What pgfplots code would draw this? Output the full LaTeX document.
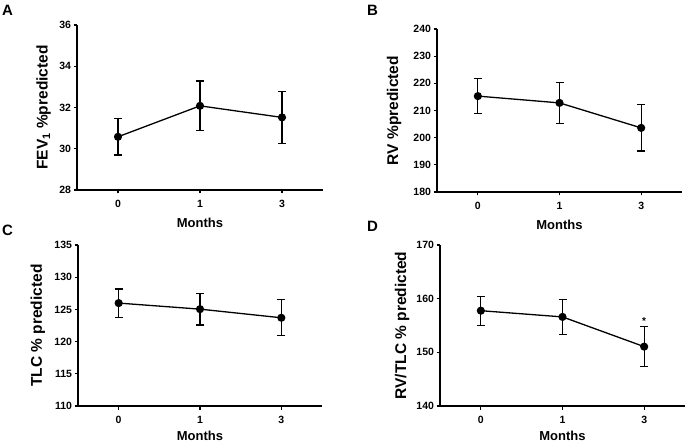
\documentclass[border=0pt]{standalone}
\usepackage{pgfplots}
\pgfplotsset{compat=1.18}
\usepackage{fontspec}
\setmainfont{Liberation Sans}
\pgfplotsset{
  prism/.style={
    scale only axis,
    axis x line*=bottom, axis y line*=left,
    xmin=-0.5, xmax=2.5, xtick={0,1,2}, xticklabels={0,1,3},
    tick align=outside, major tick length=3.5pt,
    every tick/.style={black, line width=1.2pt},
    axis line style={line width=1.2pt},
    /pgf/number format/assume math mode=true,
    ticklabel style={font=\bfseries\fontsize{10.5}{11}\selectfont},
    yticklabel style={xshift=1pt},
    xticklabel style={yshift=-3.5pt},
    xlabel=Months,
    xlabel style={at={(axis description cs:0.5,0)}, anchor=center, font=\bfseries\fontsize{13}{14}\selectfont},
    ylabel style={font=\bfseries\fontsize{15.5}{16}\selectfont},
    clip=false,
  },
  dat/.style={black, line width=1.3pt, mark=*, mark size=3.4pt,
    error bars/.cd, y dir=both, y explicit,
    error bar style={line width=1.3pt},
    error mark options={rotate=90, mark size=4pt, line width=1.3pt}},
}
\begin{document}
\begin{tikzpicture}[x=1pt,y=1pt]
\useasboundingbox (0,0) rectangle (685,442);
% Panel A
\begin{axis}[prism, at={(77pt,252pt)}, anchor=south west, width=246pt, height=165pt,
  ymin=28, ymax=36, ytick={28,30,...,36},
  xlabel style={yshift=-33pt},
  ylabel={FEV\textsubscript{1} \%predicted},
  ylabel style={at={(axis description cs:-0.136,0.5)}, anchor=center}]
\addplot[dat] coordinates {(0,30.58) +- (0,0.88) (1,32.08) +- (0,1.2) (2,31.52) +- (0,1.27)};
\end{axis}
% Panel B
\begin{axis}[prism, at={(437pt,250pt)}, anchor=south west, width=245pt, height=163pt,
  ymin=180, ymax=240, ytick={180,190,...,240},
  xlabel style={yshift=-33pt},
  ylabel={RV \%predicted},
  ylabel style={at={(axis description cs:-0.1755,0.5)}, anchor=center}]
\addplot[dat] coordinates {(0,215.3) +- (0,6.5) (1,212.8) +- (0,7.6) (2,203.6) +- (0,8.5)};
\end{axis}
% Panel C
\begin{axis}[prism, at={(78pt,36pt)}, anchor=south west, width=244pt, height=161pt,
  ymin=110, ymax=135, ytick={110,115,...,135},
  xlabel style={yshift=-29.5pt},
  ylabel={TLC \% predicted},
  ylabel style={at={(axis description cs:-0.164,0.5)}, anchor=center}]
\addplot[dat] coordinates {(0,125.98) +- (0,2.2) (1,125.04) +- (0,2.45) (2,123.7) +- (0,2.8)};
\end{axis}
% Panel D
\begin{axis}[prism, at={(440pt,36pt)}, anchor=south west, width=245pt, height=161pt,
  ymin=140, ymax=170, ytick={140,150,...,170},
  xlabel style={yshift=-29.5pt},
  ylabel={RV/TLC \% predicted},
  ylabel style={at={(axis description cs:-0.155,0.5)}, anchor=center}]
\addplot[dat] coordinates {(0,157.76) +- (0,2.7) (1,156.6) +- (0,3.25) (2,151.06) +- (0,3.75)};
\node[anchor=base, inner sep=0pt, font=\bfseries\fontsize{10}{10}\selectfont] at (axis cs:2,155.2) {*};
\end{axis}
\node[anchor=west, inner sep=0pt, font=\bfseries\fontsize{15}{15}\selectfont] at (2,432) {A};
\node[anchor=west, inner sep=0pt, font=\bfseries\fontsize{15}{15}\selectfont] at (367,432) {B};
\node[anchor=west, inner sep=0pt, font=\bfseries\fontsize{15}{15}\selectfont] at (2,212) {C};
\node[anchor=west, inner sep=0pt, font=\bfseries\fontsize{15}{15}\selectfont] at (367,216) {D};
\end{tikzpicture}
\end{document}
